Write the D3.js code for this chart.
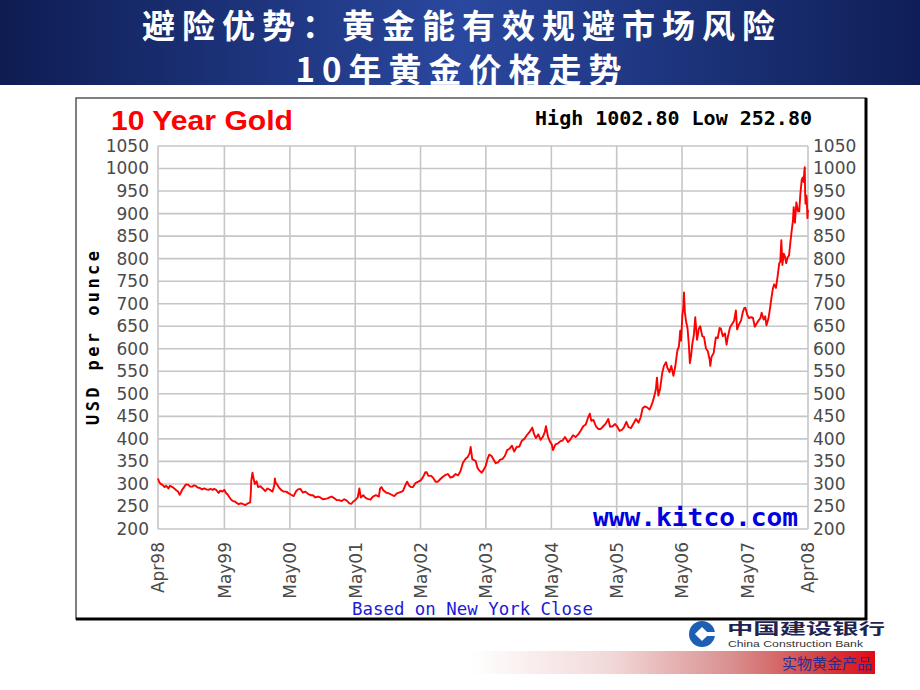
<!DOCTYPE html>
<html>
<head>
<meta charset="utf-8">
<script src="https://cdn.jsdelivr.net/npm/d3@7"></script>
<style>
  body { margin: 0; background: #fff; }
  svg { display: block; }
</style>
</head>
<body>
<script>
// slide titles
const titleLines = ['避险优势：黄金能有效规避市场风险', '10年黄金价格走势'];

// y axis ticks (USD per ounce)
const yTicks = d3.range(200, 1051, 50);

// x axis: first and last day of the series plus the May gridlines
const xStart = '1998-04-25';
const xEnd = '2008-04-04';
const xTickDates = ['1998-04-25', '1999-05-01', '2000-05-01', '2001-05-01', '2002-05-01',
  '2003-05-01', '2004-05-01', '2005-05-01', '2006-05-01', '2007-05-01', '2008-04-04'];

// gold close
const series = [
  // 1998
  ['1998-04-25', 312], ['1998-05-01', 305], ['1998-05-10', 300], ['1998-05-20', 298],
  ['1998-06-01', 293], ['1998-06-10', 296], ['1998-06-22', 290], ['1998-07-01', 296],
  ['1998-07-15', 293], ['1998-07-28', 289], ['1998-08-05', 286], ['1998-08-15', 283],
  ['1998-08-24', 276], ['1998-08-31', 281], ['1998-09-08', 288], ['1998-09-15', 291],
  ['1998-09-24', 297], ['1998-10-01', 299], ['1998-10-12', 298], ['1998-10-22', 294],
  ['1998-11-02', 294], ['1998-11-12', 297], ['1998-11-24', 295], ['1998-12-03', 292],
  ['1998-12-15', 291], ['1998-12-28', 288],
  // 1999
  ['1999-01-08', 290], ['1999-01-20', 288], ['1999-02-01', 287], ['1999-02-12', 289],
  ['1999-02-24', 287], ['1999-03-05', 289], ['1999-03-16', 287], ['1999-03-29', 280],
  ['1999-04-08', 285], ['1999-04-20', 283], ['1999-04-30', 287], ['1999-05-10', 280],
  ['1999-05-18', 277], ['1999-05-28', 271], ['1999-06-08', 265], ['1999-06-18', 262],
  ['1999-06-29', 261], ['1999-07-08', 258], ['1999-07-20', 255], ['1999-07-30', 257],
  ['1999-08-10', 256], ['1999-08-25', 253], ['1999-09-10', 257], ['1999-09-22', 259],
  ['1999-09-26', 282], ['1999-09-28', 307], ['1999-10-05', 325], ['1999-10-08', 318],
  ['1999-10-18', 300], ['1999-10-28', 306], ['1999-11-05', 293], ['1999-11-18', 295],
  ['1999-12-01', 290], ['1999-12-15', 284], ['1999-12-28', 290],
  // 2000
  ['2000-01-10', 287], ['2000-01-25', 283], ['2000-02-04', 297], ['2000-02-07', 312],
  ['2000-02-11', 303], ['2000-02-18', 300], ['2000-03-01', 292], ['2000-03-15', 286],
  ['2000-03-28', 283], ['2000-04-10', 283], ['2000-04-25', 279], ['2000-05-08', 276],
  ['2000-05-22', 273], ['2000-06-05', 284], ['2000-06-15', 288], ['2000-06-29', 289],
  ['2000-07-12', 281], ['2000-07-27', 283], ['2000-08-10', 278], ['2000-08-25', 275],
  ['2000-09-07', 275], ['2000-09-20', 270], ['2000-10-05', 272], ['2000-10-18', 270],
  ['2000-11-01', 266], ['2000-11-15', 267], ['2000-11-28', 268], ['2000-12-08', 270],
  ['2000-12-20', 272],
  // 2001
  ['2001-01-05', 268], ['2001-01-18', 264], ['2001-02-01', 264], ['2001-02-14', 262],
  ['2001-03-01', 266], ['2001-03-15', 263], ['2001-03-29', 257], ['2001-04-10', 256],
  ['2001-04-20', 261], ['2001-05-01', 264], ['2001-05-15', 270], ['2001-05-24', 290],
  ['2001-06-01', 270], ['2001-06-15', 275], ['2001-06-28', 269], ['2001-07-10', 267],
  ['2001-07-25', 265], ['2001-08-08', 272], ['2001-08-24', 275], ['2001-09-10', 272],
  ['2001-09-17', 290], ['2001-09-25', 293], ['2001-10-05', 286], ['2001-10-20', 281],
  ['2001-11-05', 279], ['2001-11-20', 276], ['2001-12-05', 273], ['2001-12-20', 279],
  // 2002
  ['2002-01-08', 282], ['2002-01-22', 284], ['2002-02-05', 297], ['2002-02-15', 305],
  ['2002-02-27', 296], ['2002-03-08', 293], ['2002-03-20', 293], ['2002-04-03', 302],
  ['2002-04-18', 305], ['2002-05-02', 308], ['2002-05-15', 315], ['2002-05-28', 326],
  ['2002-06-04', 326], ['2002-06-14', 318], ['2002-06-28', 318], ['2002-07-10', 314],
  ['2002-07-24', 305], ['2002-08-06', 305], ['2002-08-20', 311], ['2002-09-03', 316],
  ['2002-09-17', 320], ['2002-10-01', 322], ['2002-10-15', 314], ['2002-10-29', 316],
  ['2002-11-12', 322], ['2002-11-26', 319], ['2002-12-10', 328], ['2002-12-24', 347],
  // 2003
  ['2003-01-08', 356], ['2003-01-20', 360], ['2003-01-30', 368], ['2003-02-05', 382],
  ['2003-02-14', 355], ['2003-02-24', 353], ['2003-03-05', 351], ['2003-03-15', 336],
  ['2003-03-25', 330], ['2003-04-07', 325], ['2003-04-17', 330], ['2003-04-30', 340],
  ['2003-05-10', 355], ['2003-05-20', 365], ['2003-06-02', 362], ['2003-06-12', 355],
  ['2003-06-25', 346], ['2003-07-08', 348], ['2003-07-20', 354], ['2003-08-01', 355],
  ['2003-08-15', 362], ['2003-08-28', 375], ['2003-09-10', 378], ['2003-09-24', 385],
  ['2003-10-06', 372], ['2003-10-20', 382], ['2003-11-04', 383], ['2003-11-18', 396],
  ['2003-12-02', 400], ['2003-12-16', 408], ['2003-12-30', 415],
  // 2004
  ['2004-01-08', 420], ['2004-01-15', 425], ['2004-01-26', 410], ['2004-02-05', 402],
  ['2004-02-18', 410], ['2004-03-02', 398], ['2004-03-15', 405], ['2004-03-25', 415],
  ['2004-04-01', 428], ['2004-04-12', 405], ['2004-04-22', 395], ['2004-05-03', 388],
  ['2004-05-10', 375], ['2004-05-24', 388], ['2004-06-07', 390], ['2004-06-21', 395],
  ['2004-07-02', 396], ['2004-07-16', 404], ['2004-08-02', 393], ['2004-08-16', 399],
  ['2004-08-30', 408], ['2004-09-13', 404], ['2004-09-28', 410], ['2004-10-12', 418],
  ['2004-10-26', 428], ['2004-11-09', 432], ['2004-11-22', 447], ['2004-12-02', 456],
  ['2004-12-10', 440], ['2004-12-22', 442],
  // 2005
  ['2005-01-05', 428], ['2005-01-18', 422], ['2005-02-01', 422], ['2005-02-15', 428],
  ['2005-03-01', 434], ['2005-03-15', 444], ['2005-03-25', 427], ['2005-04-08', 428],
  ['2005-04-22', 433], ['2005-05-06', 426], ['2005-05-17', 418], ['2005-05-30', 420],
  ['2005-06-10', 425], ['2005-06-24', 438], ['2005-07-06', 426], ['2005-07-20', 424],
  ['2005-08-03', 434], ['2005-08-17', 444], ['2005-08-31', 436], ['2005-09-12', 448],
  ['2005-09-23', 468], ['2005-10-05', 472], ['2005-10-18', 470], ['2005-11-01', 465],
  ['2005-11-15', 478], ['2005-11-28', 496], ['2005-12-06', 510], ['2005-12-12', 536],
  ['2005-12-20', 496], ['2005-12-30', 512],
  // 2006
  ['2006-01-10', 545], ['2006-01-20', 562], ['2006-02-01', 570], ['2006-02-08', 558],
  ['2006-02-20', 548], ['2006-03-02', 562], ['2006-03-14', 540], ['2006-03-24', 560],
  ['2006-04-05', 596], ['2006-04-14', 606], ['2006-04-21', 640], ['2006-04-26', 618],
  ['2006-05-03', 675], ['2006-05-08', 690], ['2006-05-12', 725], ['2006-05-17', 681],
  ['2006-05-24', 660], ['2006-06-01', 645], ['2006-06-08', 610], ['2006-06-14', 568],
  ['2006-06-20', 582], ['2006-06-28', 612], ['2006-07-06', 630], ['2006-07-14', 670],
  ['2006-07-24', 620], ['2006-08-03', 645], ['2006-08-11', 650], ['2006-08-22', 628],
  ['2006-09-01', 626], ['2006-09-12', 600], ['2006-09-22', 595], ['2006-10-03', 575],
  ['2006-10-06', 562], ['2006-10-13', 582], ['2006-10-25', 591], ['2006-11-06', 625],
  ['2006-11-17', 624], ['2006-11-27', 646], ['2006-12-04', 645], ['2006-12-15', 628],
  ['2006-12-27', 634],
  // 2007
  ['2007-01-05', 609], ['2007-01-12', 626], ['2007-01-24', 647], ['2007-02-05', 655],
  ['2007-02-16', 662], ['2007-02-26', 685], ['2007-03-05', 643], ['2007-03-14', 653],
  ['2007-03-27', 663], ['2007-04-05', 680], ['2007-04-13', 690], ['2007-04-20', 691],
  ['2007-05-01', 675], ['2007-05-10', 668], ['2007-05-21', 670], ['2007-06-01', 669],
  ['2007-06-12', 649], ['2007-06-22', 656], ['2007-07-03', 663], ['2007-07-13', 668],
  ['2007-07-20', 680], ['2007-07-31', 665], ['2007-08-09', 672], ['2007-08-16', 652],
  ['2007-08-27', 667], ['2007-09-05', 690], ['2007-09-11', 708], ['2007-09-20', 732],
  ['2007-09-28', 743], ['2007-10-08', 735], ['2007-10-17', 760], ['2007-10-26', 789],
  ['2007-11-01', 793], ['2007-11-07', 841], ['2007-11-13', 786], ['2007-11-20', 811],
  ['2007-11-27', 805], ['2007-12-04', 790], ['2007-12-12', 803], ['2007-12-20', 807],
  ['2007-12-28', 838],
  // 2008
  ['2008-01-04', 862], ['2008-01-11', 885], ['2008-01-15', 914], ['2008-01-22', 880],
  ['2008-01-30', 925], ['2008-02-08', 905], ['2008-02-15', 905], ['2008-02-21', 942],
  ['2008-02-29', 975], ['2008-03-05', 980], ['2008-03-11', 970], ['2008-03-14', 993],
  ['2008-03-17', 1002.8], ['2008-03-19', 944], ['2008-03-21', 922], ['2008-03-26', 940],
  ['2008-03-28', 935], ['2008-04-01', 890], ['2008-04-04', 908]
];

const high = 1002.80;
const low = 252.80;

const parseDate = d3.timeParse('%Y-%m-%d');
const data = series.map(d => ({date: parseDate(d[0]), price: d[1]}));

const width = 920;
const height = 690;
// plot area inside the kitco picture
const plot = {left: 158, right: 808, top: 146, bottom: 529};

const svg = d3.select('body')
  .append('svg')
  .attr('width', width)
  .attr('height', height);

const defs = svg.append('defs');

const headGrad = defs.append('linearGradient').attr('id', 'headGrad');
headGrad.append('stop').attr('offset', '0%').attr('stop-color', '#0e1c52');
headGrad.append('stop').attr('offset', '50%').attr('stop-color', '#2a489f');
headGrad.append('stop').attr('offset', '100%').attr('stop-color', '#0f1e56');

const barGrad = defs.append('linearGradient').attr('id', 'barGrad');
barGrad.append('stop').attr('offset', '0%').attr('stop-color', '#ffffff');
barGrad.append('stop').attr('offset', '35%').attr('stop-color', '#f2d8d8');
barGrad.append('stop').attr('offset', '65%').attr('stop-color', '#d98e8e');
barGrad.append('stop').attr('offset', '85%').attr('stop-color', '#d24848');
barGrad.append('stop').attr('offset', '100%').attr('stop-color', '#e00a14');

// HEADER
svg.append('rect')
  .attr('x', 0).attr('y', 0)
  .attr('width', width).attr('height', 85)
  .attr('fill', 'url(#headGrad)');

svg.append('g')
  .selectAll('text')
  .data(titleLines)
  .join('text')
  .attr('x', 462)
  .attr('y', (d, i) => i === 0 ? 38 : 82)
  .attr('text-anchor', 'middle')
  .attr('font-family', '"Noto Sans CJK SC", sans-serif')
  .attr('font-weight', 'bold')
  .attr('font-size', 33)
  .attr('letter-spacing', 7)
  .attr('fill', '#fff')
  .text(d => d);

// KITCO PICTURE FRAME
svg.append('rect')
  .attr('x', 76).attr('y', 98)
  .attr('width', 790).attr('height', 521)
  .attr('fill', '#fff')
  .attr('stroke', '#555')
  .attr('stroke-width', 1.5);

svg.append('path')
  .attr('d', 'M866,98 V619 H76')
  .attr('fill', 'none')
  .attr('stroke', '#000')
  .attr('stroke-width', 3);

// SCALES
const xScale = d3.scaleTime()
  .domain([parseDate(xStart), parseDate(xEnd)])
  .range([plot.left, plot.right]);

const yScale = d3.scaleLinear()
  .domain([200, 1050])
  .range([plot.bottom, plot.top]);

// grid
const grid = svg.append('g')
  .attr('stroke', '#c6c6c6')
  .attr('stroke-width', 1.6);

grid.selectAll('line.h')
  .data(yTicks)
  .join('line')
  .attr('class', 'h')
  .attr('x1', plot.left).attr('x2', plot.right)
  .attr('y1', d => yScale(d)).attr('y2', d => yScale(d));

grid.selectAll('line.v')
  .data(xTickDates)
  .join('line')
  .attr('class', 'v')
  .attr('x1', d => xScale(parseDate(d))).attr('x2', d => xScale(parseDate(d)))
  .attr('y1', plot.top).attr('y2', plot.bottom);

// AXES
const yAxisLeft = d3.axisLeft(yScale).tickValues(yTicks).tickFormat(d3.format('d'))
  .tickSize(0).tickPadding(9);
const yAxisRight = d3.axisRight(yScale).tickValues(yTicks).tickFormat(d3.format('d'))
  .tickSize(0).tickPadding(5);

function styleAxis(g) {
  g.select('.domain').remove();
  g.selectAll('text')
    .attr('font-family', '"DejaVu Sans", sans-serif')
    .attr('font-size', 17)
    .attr('fill', '#4a4a4a');
}

svg.append('g')
  .attr('transform', `translate(${plot.left},0)`)
  .call(yAxisLeft)
  .call(styleAxis);

svg.append('g')
  .attr('transform', `translate(${plot.right},0)`)
  .call(yAxisRight)
  .call(styleAxis);

const xAxis = d3.axisBottom(xScale)
  .tickValues(xTickDates.map(parseDate))
  .tickSize(0)
  .tickFormat(d3.timeFormat('%b%y'));

svg.append('g')
  .attr('transform', `translate(0,${plot.bottom})`)
  .call(xAxis)
  .call(styleAxis)
  .selectAll('text')
  .attr('x', -13)
  .attr('y', 0)
  .attr('dy', '0.35em')
  .attr('transform', 'rotate(-90)')
  .style('text-anchor', 'end');

// the price line
const line = d3.line()
  .x(d => xScale(d.date))
  .y(d => yScale(d.price));

svg.append('path')
  .datum(data)
  .attr('d', line)
  .attr('fill', 'none')
  .attr('stroke', '#ff0000')
  .attr('stroke-width', 1.9)
  .attr('stroke-linejoin', 'round');

// LABELS
svg.append('text')
  .attr('x', 111).attr('y', 130)
  .attr('font-family', '"Liberation Sans", Arial, sans-serif')
  .attr('font-weight', 'bold')
  .attr('font-size', 28)
  .attr('textLength', 182)
  .attr('lengthAdjust', 'spacingAndGlyphs')
  .attr('fill', '#f00')
  .text('10 Year Gold');

svg.append('text')
  .attr('x', 812).attr('y', 125)
  .attr('text-anchor', 'end')
  .attr('font-family', '"DejaVu Sans Mono", monospace')
  .attr('font-weight', 'bold')
  .attr('font-size', 20)
  .attr('fill', '#000')
  .text(`High ${high.toFixed(2)} Low ${low.toFixed(2)}`);

svg.append('text')
  .attr('transform', 'translate(93,338) rotate(-90)')
  .attr('text-anchor', 'middle')
  .attr('dy', '0.35em')
  .attr('font-family', '"DejaVu Sans Mono", monospace')
  .attr('font-weight', 'bold')
  .attr('font-size', 17)
  .attr('textLength', 174)
  .attr('fill', '#000')
  .text('USD per ounce');

svg.append('text')
  .attr('x', 593).attr('y', 526)
  .attr('font-family', '"DejaVu Sans Mono", monospace')
  .attr('font-weight', 'bold')
  .attr('font-size', 24)
  .attr('textLength', 205)
  .attr('lengthAdjust', 'spacingAndGlyphs')
  .attr('fill', '#0000e0')
  .text('www.kitco.com');

svg.append('text')
  .attr('x', 352).attr('y', 615)
  .attr('font-family', '"DejaVu Sans Mono", monospace')
  .attr('font-size', 17)
  .attr('textLength', 241)
  .attr('lengthAdjust', 'spacingAndGlyphs')
  .attr('fill', '#1a1ad8')
  .text('Based on New York Close');

// BANK LOGO
const logo = svg.append('g').attr('transform', 'translate(702,634)');
logo.append('circle').attr('r', 13).attr('fill', '#1d5fb5');
logo.append('rect')
  .attr('x', -5).attr('y', -5).attr('width', 10).attr('height', 10)
  .attr('transform', 'rotate(45)')
  .attr('fill', '#fff');
logo.append('rect')
  .attr('x', 0).attr('y', -2).attr('width', 15).attr('height', 4)
  .attr('fill', '#fff');

svg.append('text')
  .attr('x', 727).attr('y', 634)
  .attr('font-family', '"Noto Sans CJK SC", sans-serif')
  .attr('font-weight', 'bold')
  .attr('font-size', 15)
  .attr('textLength', 158)
  .attr('lengthAdjust', 'spacingAndGlyphs')
  .attr('fill', '#1e2452')
  .text('中国建设银行');

svg.append('text')
  .attr('x', 728).attr('y', 647)
  .attr('font-family', '"Liberation Sans", Arial, sans-serif')
  .attr('font-size', 9.5)
  .attr('textLength', 135)
  .attr('lengthAdjust', 'spacingAndGlyphs')
  .attr('fill', '#333')
  .text('China Construction Bank');

svg.append('rect')
  .attr('x', 470).attr('y', 651)
  .attr('width', 405).attr('height', 23)
  .attr('fill', 'url(#barGrad)');

svg.append('text')
  .attr('x', 872).attr('y', 669)
  .attr('text-anchor', 'end')
  .attr('font-family', '"Noto Sans CJK SC", sans-serif')
  .attr('font-size', 15)
  .attr('fill', '#2b2b8c')
  .text('实物黄金产品');
</script>
</body>
</html>
